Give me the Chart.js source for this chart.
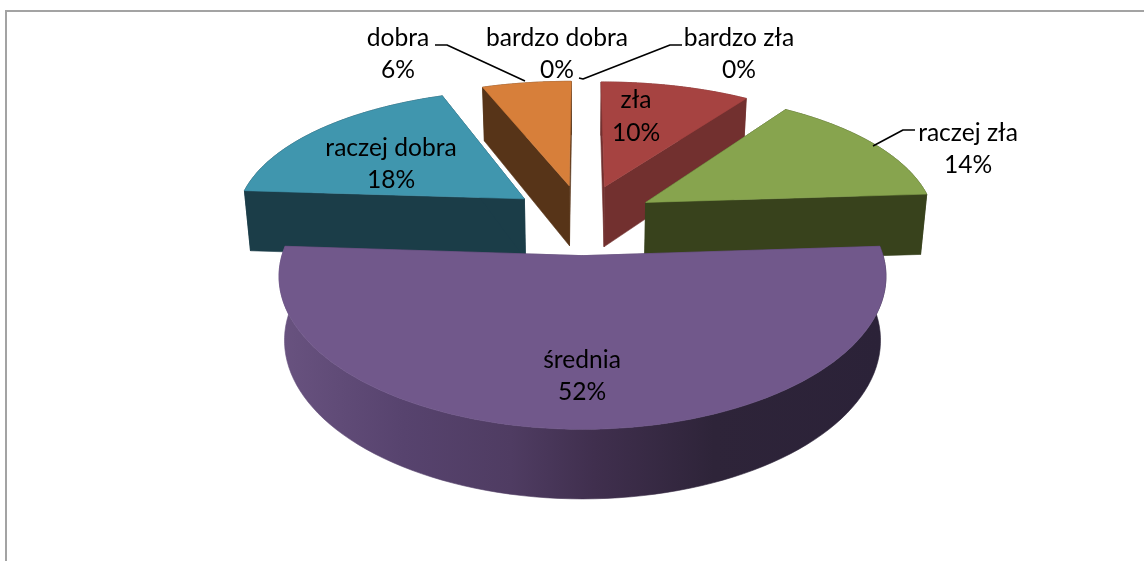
<!DOCTYPE html>
<html lang="pl">
<head>
<meta charset="utf-8">
<title>Wykres</title>
<style>
html,body{margin:0;padding:0;background:#fff;}
canvas{display:block;}
</style>
<script src="https://cdn.jsdelivr.net/npm/chart.js@4"></script>
</head>
<body>
<canvas id="c" width="1144" height="561"></canvas>
<script>
const categories = ['bardzo zła','zła','raczej zła','średnia','raczej dobra','dobra','bardzo dobra'];
const values     = [0,10,14,52,18,6,0];
const topColors  = ['#4F81BD','#A64341','#87A44E','#71588B','#4096AE','#D77F3A','#4F81BD'];
const sideColors = ['#2C4A6E','#72302F','#38421C','#4F3C62','#1B3D48','#573418','#2C4A6E'];

// Projection of the pie plane to the screen (3D tilt + perspective)
const view = {shiftY:-61.5, b:139, c:23, radius:290, persp:42, depthScale:0.982, depth:61.5, depthPersp:6.5};
const rimStops = [[0,'#68527F'],[0.2,'#57436E'],[0.38,'#4F3C62'],[0.52,'#402F4E'],[0.72,'#2E2439'],[1,'#2B2238']];

// Label placement per category: centre of each text line
const labelPlace = [
  {x:739,y1:38,y2:70},{x:636,y1:100,y2:133},{x:968,y1:133,y2:165},
  {x:582,y1:360,y2:392},{x:391,y1:148,y2:180},{x:398,y1:38,y2:70},{x:557,y1:38,y2:70}
];
const leaders = [
  [[435,45],[447,45],[525,81]],
  [[682,45],[670,45],[583,79],[579,78]],
  [[915,130],[903,130],[873,146]]
];

function project(el,u,v){
  const s = view.radius + view.persp*v;
  return {x: el.x + u*s, y: el.y + view.shiftY + view.b*v + view.c*v*v, v};
}
function lower(el,p){
  return {x: el.x + (p.x-el.x)*view.depthScale, y: p.y + view.depth + view.depthPersp*p.v, v:p.v};
}
function path(ctx,pts){
  ctx.beginPath();
  pts.forEach((p,i)=> i?ctx.lineTo(p.x,p.y):ctx.moveTo(p.x,p.y));
  ctx.closePath();
}
function fillPoly(ctx,pts,color){
  path(ctx,pts);
  ctx.fillStyle=color; ctx.fill();
  ctx.strokeStyle=color; ctx.lineWidth=0.6; ctx.stroke();
}

const pie3d = {
  id:'pie3d',
  beforeDatasetsDraw(){ return false; },
  afterDraw(chart){
    const ctx = chart.ctx;
    const meta = chart.getDatasetMeta(0);
    ctx.save();
    // frame
    ctx.strokeStyle='#A3A3A3'; ctx.lineWidth=2;
    ctx.beginPath(); ctx.moveTo(6,561); ctx.lineTo(6,11); ctx.lineTo(1144,11); ctx.stroke();

    const shapes = meta.data.map((el,i)=>{
      const a0=el.startAngle,a1=el.endAngle,mid=(a0+a1)/2;
      const e=el.options.offset/el.outerRadius;
      const cu=Math.cos(mid)*e,cv=Math.sin(mid)*e;
      const n=90,arc=[];
      for(let k=0;k<=n;k++){
        const a=a0+(a1-a0)*k/n;
        arc.push(project(el,cu+Math.cos(a),cv+Math.sin(a)));
      }
      return {i,el,apex:project(el,cu,cv),arc,empty:values[i]===0,order:cv};
    }).filter(s=>!s.empty).sort((p,q)=>p.order-q.order);

    shapes.forEach(({i,el,apex,arc})=>{
      const low=arc.map(p=>lower(el,p));
      const lowApex=lower(el,apex);
      let rimFill=sideColors[i];
      if(values[i]===Math.max(...values)){
        const xs=low.map(p=>p.x);
        const g=ctx.createLinearGradient(Math.min(...xs),0,Math.max(...xs),0);
        rimStops.forEach(s=>g.addColorStop(s[0],s[1]));
        rimFill=g;
      }
      fillPoly(ctx,arc.concat(low.slice().reverse()),rimFill);
      fillPoly(ctx,[apex,arc[0],low[0],lowApex],sideColors[i]);
      fillPoly(ctx,[apex,arc[arc.length-1],low[low.length-1],lowApex],sideColors[i]);
      fillPoly(ctx,[apex].concat(arc),topColors[i]);
    });

    // leader lines
    ctx.strokeStyle='#000'; ctx.lineWidth=1.6; ctx.lineJoin='round';
    leaders.forEach(l=>{
      ctx.beginPath();
      l.forEach((p,i)=> i?ctx.lineTo(p[0],p[1]):ctx.moveTo(p[0],p[1]));
      ctx.stroke();
    });

    // data labels
    const total=values.reduce((a,b)=>a+b,0);
    ctx.fillStyle='#000';
    ctx.font='24.6px Lato, "Open Sans", sans-serif';
    ctx.textAlign='center'; ctx.textBaseline='middle';
    categories.forEach((name,i)=>{
      const p=labelPlace[i];
      ctx.fillText(name,p.x,p.y1);
      ctx.fillText(Math.round(values[i]/total*100)+'%',p.x,p.y2);
    });
    ctx.restore();
  }
};

new Chart(document.getElementById('c'),{
  type:'pie',
  data:{labels:categories,datasets:[{data:values,backgroundColor:topColors,borderWidth:0,offset:63}]},
  options:{
    responsive:false,animation:false,
    layout:{padding:{left:21,right:0,top:0,bottom:0}},
    plugins:{legend:{display:false},tooltip:{enabled:false},title:{display:false}}
  },
  plugins:[pie3d]
});
</script>
</body>
</html>
